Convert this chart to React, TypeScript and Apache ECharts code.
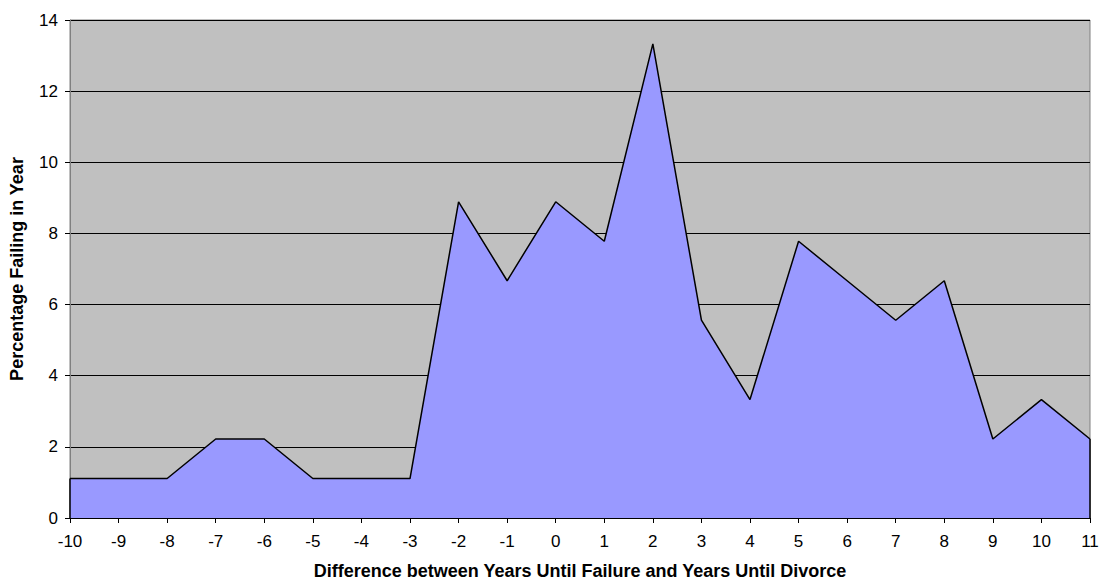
import React, { useEffect, useRef } from "react";
import * as echarts from "echarts";

const categories = ["-10", "-9", "-8", "-7", "-6", "-5", "-4", "-3", "-2", "-1", "0", "1", "2", "3", "4", "5", "6", "7", "8", "9", "10", "11"];
const percentages = [1.11, 1.11, 1.11, 2.22, 2.22, 1.11, 1.11, 1.11, 8.89, 6.67, 8.89, 7.78, 13.33, 5.56, 3.33, 7.78, 6.67, 5.56, 6.67, 2.22, 3.33, 2.22];
const xTitle = "Difference between Years Until Failure and Years Until Divorce";
const yTitle = "Percentage Failing in Year";

export default function App() {
  const ref = useRef<HTMLDivElement>(null);
  useEffect(() => {
    if (!ref.current) return;
    const chart = echarts.init(ref.current, null, { renderer: "svg" });
    const font = "Arial, 'Liberation Sans', sans-serif";
    const last = categories.length - 1;
    chart.setOption({
      animation: false,
      textStyle: { fontFamily: font },
      grid: {
        left: 70,
        right: 9,
        top: 20,
        bottom: 63,
        containLabel: false,
        outerBoundsMode: "none",
        show: true,
        backgroundColor: "#C0C0C0",
        borderColor: "#808080",
        borderWidth: 1,
      },
      xAxis: {
        type: "category",
        data: categories,
        boundaryGap: false,
        name: xTitle,
        nameLocation: "middle",
        nameGap: 44,
        nameTextStyle: { fontFamily: font, fontSize: 18, fontWeight: "bold", color: "#000", lineHeight: 18 },
        axisLine: { show: true, lineStyle: { color: "#000", width: 1 } },
        axisTick: { show: true, alignWithLabel: true, length: 5, lineStyle: { color: "#000" } },
        axisLabel: { fontFamily: font, fontSize: 17, color: "#000", margin: 15, interval: 0 },
        splitLine: { show: false },
      },
      yAxis: {
        type: "value",
        min: 0,
        max: 14,
        interval: 2,
        name: yTitle,
        nameLocation: "middle",
        nameGap: 44,
        nameTextStyle: { fontFamily: font, fontSize: 18, fontWeight: "bold", color: "#000" },
        axisLine: { show: true, lineStyle: { color: "#808080", width: 1 } },
        axisTick: { show: true, length: 5, lineStyle: { color: "#000" } },
        axisLabel: { fontFamily: font, fontSize: 17, color: "#000", margin: 12 },
        splitLine: { show: true, lineStyle: { color: "#000", width: 1 } },
      },
      series: [
        {
          type: "line",
          data: percentages,
          symbol: "none",
          lineStyle: { color: "#000", width: 1.5 },
          areaStyle: { color: "#9999FF", opacity: 1 },
          markLine: {
            silent: true,
            symbol: "none",
            label: { show: false },
            lineStyle: { color: "#000", width: 1.5, type: "solid" },
            data: [
              [
                { coord: [categories[0], 0] },
                { coord: [categories[0], percentages[0]] },
              ],
              [
                { coord: [categories[last], 0] },
                { coord: [categories[last], percentages[last]] },
              ],
            ],
          },
        },
      ],
    });
    return () => chart.dispose();
  }, []);
  return <div ref={ref} style={{ width: 1099, height: 581, position: "absolute", left: 0, top: 0 }} />;
}
